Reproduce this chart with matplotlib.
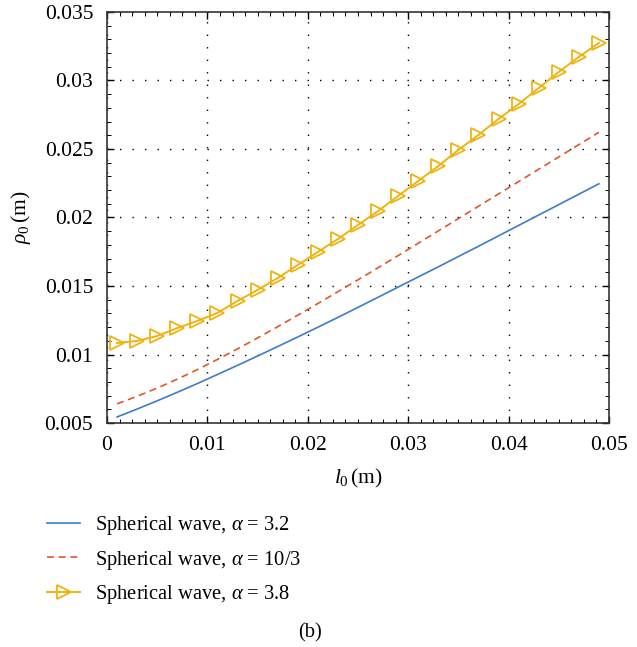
import matplotlib
matplotlib.use('Agg')
import matplotlib.pyplot as plt
from matplotlib.ticker import AutoMinorLocator

plt.rcParams['font.family'] = 'Liberation Serif'
plt.rcParams['mathtext.fontset'] = 'custom'
plt.rcParams['mathtext.rm'] = 'Liberation Serif'
plt.rcParams['mathtext.it'] = 'Liberation Serif:italic'

# data
l0 = [0.001, 0.003, 0.005, 0.007, 0.009, 0.011, 0.013, 0.015, 0.017, 0.019,
      0.021, 0.023, 0.025, 0.027, 0.029, 0.031, 0.033, 0.035, 0.037, 0.039,
      0.041, 0.043, 0.045, 0.047, 0.049]
rho_32 = [0.00544, 0.00602, 0.00662, 0.00724, 0.00788, 0.00854, 0.00921, 0.00989, 0.01058, 0.01128,
          0.01199, 0.01271, 0.01344, 0.01418, 0.01492, 0.01566, 0.01640, 0.01715, 0.01790, 0.01866,
          0.01942, 0.02018, 0.02094, 0.02170, 0.02246]
rho_103 = [0.0064, 0.00695, 0.00755, 0.0082, 0.0089, 0.00964, 0.01041, 0.01121, 0.01203, 0.01287,
           0.01372, 0.01458, 0.01545, 0.01633, 0.01722, 0.01812, 0.01902, 0.01992, 0.02082, 0.02172,
           0.02262, 0.02352, 0.02442, 0.02532, 0.02622]
rho_38 = [0.01084, 0.01099, 0.01135, 0.01193, 0.01245, 0.01303, 0.01391, 0.01471, 0.01558, 0.01653,
          0.01748, 0.01843, 0.01945, 0.02047, 0.02157, 0.02266, 0.02376, 0.02493, 0.02602, 0.02719,
          0.02828, 0.02945, 0.03062, 0.03172, 0.03274]
labels = [r'Spherical wave, $\alpha$ = 3.2',
          r'Spherical wave, $\alpha$ = 10/3',
          r'Spherical wave, $\alpha$ = 3.8']
xticks = [0, 0.01, 0.02, 0.03, 0.04, 0.05]
xticklabels = ['0', '0.01', '0.02', '0.03', '0.04', '0.05']
yticks = [0.005, 0.01, 0.015, 0.02, 0.025, 0.03, 0.035]
yticklabels = ['0.005', '0.01', '0.015', '0.02', '0.025', '0.03', '0.035']

fig = plt.figure(figsize=(6.37, 6.47), dpi=100)
ax = fig.add_axes([0.168, 0.3462, 0.788, 0.6353])

ax.plot(l0, rho_32, color='#3b7dc8', lw=1.2, label=labels[0])
ax.plot(l0, rho_103, color='#e2562c', lw=1.2, ls=(0, (4.2, 2.8)), label=labels[1])
ax.plot(l0, rho_38, color='#efb30f', lw=1.4, marker='>', markersize=9.5,
        markerfacecolor='none', markeredgewidth=1.3, label=labels[2])

ax.set_xlim(0, 0.05)
ax.set_ylim(0.005, 0.035)
ax.set_xticks(xticks, xticklabels)
ax.set_yticks(yticks, yticklabels)
ax.xaxis.set_minor_locator(AutoMinorLocator(8))
ax.yaxis.set_minor_locator(AutoMinorLocator(5))
ax.tick_params(which='both', direction='in', top=True, right=True, labelsize=15.5)
ax.tick_params(axis='y', pad=10)
ax.tick_params(axis='x', pad=9)
ax.tick_params(which='major', length=5, width=1)
ax.tick_params(which='minor', length=3, width=0.7)
for s in ax.spines.values():
    s.set_linewidth(1.2)
    s.set_color('#333333')

ax.grid(True, color='black', ls=(0, (1, 8)), lw=1.0)

ax.set_xlabel(r'$l_0\,$(m)', fontsize=15.5, labelpad=9)
ax.set_ylabel(r'$\rho_0\,$(m)', fontsize=15.5, labelpad=8)

fig.legend(loc='upper left', bbox_to_anchor=(0.074, 0.205), frameon=False,
           borderpad=0, borderaxespad=0,
           fontsize=14.8, handlelength=1.6, handletextpad=0.75, labelspacing=0.55)
fig.text(0.487, 0.015, '(b)', fontsize=14.8, ha='center')

fig.savefig('out.png', dpi=100)
